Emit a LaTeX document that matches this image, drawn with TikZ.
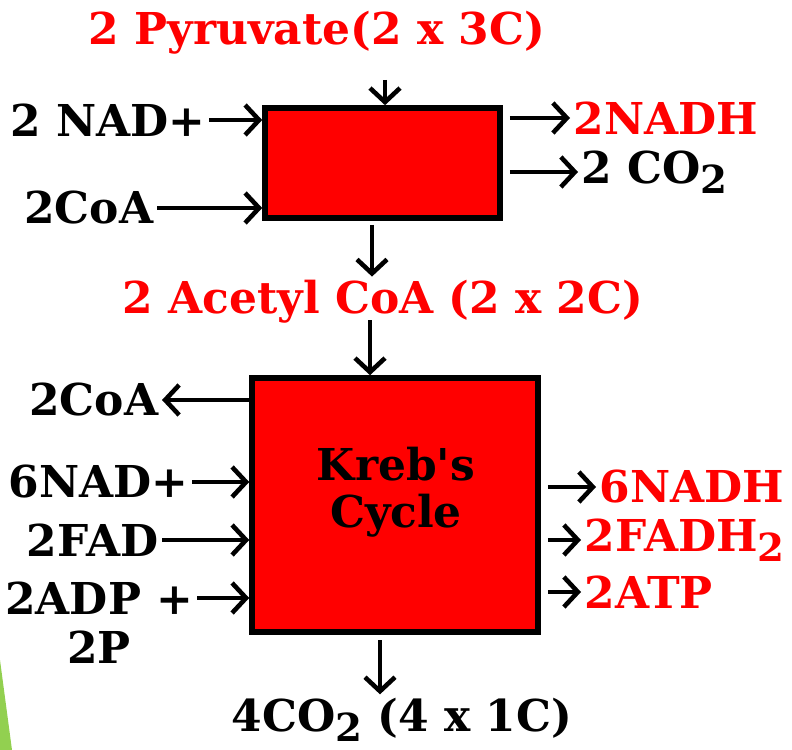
\documentclass[tikz,border=0pt]{standalone}
\usepackage{fontspec}
\setmainfont{DejaVu Serif}
\usetikzlibrary{arrows.meta,positioning}
\definecolor{slidegreen}{RGB}{146,208,80}
\newcommand{\low}[1]{\raisebox{-0.45ex}{\fontsize{22}{22}\selectfont #1}}

\begin{document}
\begin{tikzpicture}[
    x=0.02cm, y=-0.02cm,
    every node/.style={font=\fontsize{25}{27}\selectfont\bfseries, inner sep=2pt},
    stage/.style={draw, line width=3.2pt, fill=red},
    input/.style={anchor=east},
    output/.style={anchor=west},
    product/.style={text=red},
    flow/.style={-{Straight Barb[length=2.8mm, width=6mm]}, line width=2.6pt}
]
\useasboundingbox (0,0) rectangle (792,750);
\fill[slidegreen] (0,660) -- (12,750) -- (0,750) -- cycle;
\node[stage, minimum width=4.7cm, minimum height=2.2cm] (link) at (382.5,163) {};
\node[stage, minimum width=5.72cm, minimum height=5.08cm] (kreb) at (395,505) {};
\node[align=center] (krebname) at (396,492) {Kreb\textquotesingle s\\Cycle};
\node[product] (pyr) at (317,33) {2 Pyruvate(2 x 3C)};
\node[input] (nad1) at (209,120) {2 NAD+};
\node[input] (coa1) at (157,208) {2CoA};
\node[output, product] (nadh1) at (570,118) {2NADH};
\node[output] (co2a) at (578,172) {2 CO\low{2}};
\node[product] (acetyl) at (383,302) {2 Acetyl CoA (2 x 2C)};
\node[input] (coa2) at (162,400) {2CoA};
\node[input] (nad2) at (192,482) {6NAD+};
\node[input] (fad) at (162,540) {2FAD};
\node[input] (adp) at (197,598) {2ADP +};
\node[below=5pt of adp] (pi) {2P};
\node[output, product] (nadh2) at (596,487) {6NADH};
\node[output, product] (fadh) at (581,540) {2FADH\low{2}};
\node[output, product] (atp) at (581,592) {2ATP};
\node (co2b) at (402,720) {4CO\low{2} (4 x 1C)};
\coordinate (pyrin) at (385,80);
\coordinate (linkout) at (372,225);
\coordinate (acetin) at (370,320);
\coordinate (krebout) at (380,640);
\draw[flow] (pyrin) -- (pyrin |- link.north);
\draw[flow] (nad1.east) -- (nad1 -| link.west);
\draw[flow] (coa1.east) -- (coa1 -| link.west);
\draw[flow, shorten <=4pt] (nadh1 -| link.east) -- (nadh1.west);
\draw[flow, shorten <=4pt] (co2a -| link.east) -- (co2a.west);
\draw[flow] (linkout) -- (linkout |- acetyl.north);
\draw[flow] (acetin) -- (acetin |- kreb.north);
\draw[flow] (coa2 -| kreb.west) -- (coa2.east);
\draw[flow] (nad2.east) -- (nad2 -| kreb.west);
\draw[flow] (fad.east) -- (fad -| kreb.west);
\draw[flow] (adp.east) -- (adp -| kreb.west);
\draw[flow, shorten <=4pt] (nadh2 -| kreb.east) -- (nadh2.west);
\draw[flow, shorten <=4pt] (fadh -| kreb.east) -- (fadh.west);
\draw[flow, shorten <=4pt] (atp -| kreb.east) -- (atp.west);
\draw[flow] (krebout) -- (krebout |- co2b.north);
\end{tikzpicture}
\end{document}
